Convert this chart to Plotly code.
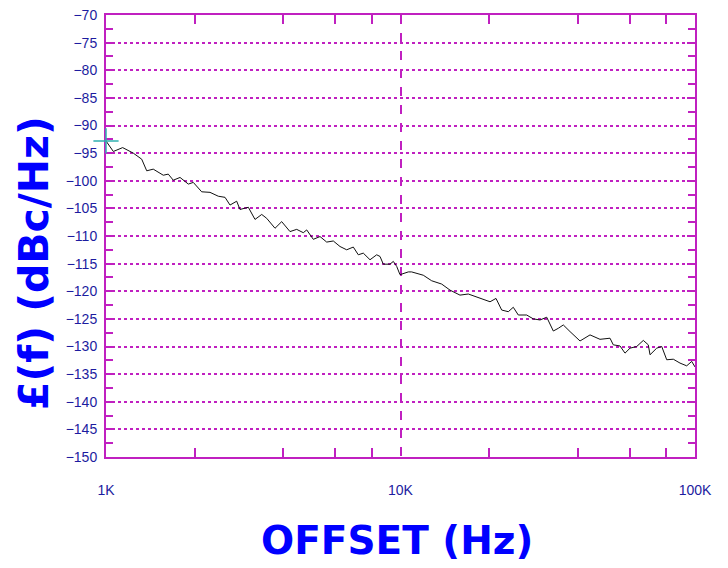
import plotly.graph_objects as go

# Offset frequency (Hz) and phase noise (dBc/Hz)
freq_hz = [1000, 1059, 1139, 1238, 1322, 1375, 1447, 1565, 1627, 1692, 1784, 1903, 1979,
           2113, 2255, 2406, 2536, 2637, 2778, 2851, 3043, 3206, 3379, 3513, 3749, 3950,
           4215, 4442, 4677, 4803, 5057, 5330, 5616, 5913, 6231, 6566, 6914, 7190, 7477,
           7878, 8302, 8519, 8742, 9211, 9454, 9707, 9960, 10630, 10910, 11950, 12760,
           13800, 14730, 15920, 16990, 18380, 20140, 21100, 22060, 23230, 24150, 25120,
           26820, 28240, 29770, 31370, 33030, 34350, 35710, 37640, 40700, 44010, 47580,
           51450, 52790, 55630, 57850, 60160, 63390, 66760, 69410, 70350, 74130, 77090,
           80170, 84410, 88940, 93720, 97460, 100000]
noise_dbc = [-92.8, -94.7, -94.0, -95.0, -96.1, -98.2, -97.9, -99.0, -98.8, -99.9, -99.4,
             -100.6, -100.3, -102.0, -102.1, -102.8, -103.0, -104.4, -103.7, -105.2, -104.8,
             -107.0, -106.1, -106.8, -108.6, -107.4, -109.2, -108.8, -109.4, -108.9, -110.6,
             -110.1, -111.1, -110.9, -111.9, -112.5, -112.0, -113.4, -113.1, -114.3, -113.4,
             -113.7, -115.1, -115.1, -114.6, -115.5, -117.0, -116.5, -116.5, -117.1, -118.1,
             -118.7, -119.8, -120.7, -120.5, -121.2, -121.9, -121.3, -123.4, -123.7, -122.9,
             -124.3, -124.3, -125.0, -125.2, -124.7, -127.2, -126.7, -126.1, -127.3, -129.0,
             -127.9, -128.7, -128.5, -129.7, -129.9, -131.2, -130.3, -130.0, -128.9, -129.7,
             -131.5, -130.3, -130.0, -132.4, -132.3, -133.0, -133.5, -132.7, -133.7]

marker_freq = [1000]
marker_dbc = [-92.8]

x_tick_vals = [1000, 10000, 100000]
x_tick_text = ["1K", "10K", "100K"]
x_minor_vals = [2000, 4000, 6000, 8000, 20000, 40000, 60000, 80000]
y_tick_vals = list(range(-150, -69, 5))
y_tick_text = [str(v).replace("-", "\u2212") for v in y_tick_vals]

MAG = "#C020C0"
LABEL = "#1C1CA0"
TITLE = "#0000FF"
CYAN = "#30B0B0"

fig = go.Figure()
fig.add_trace(go.Scatter(x=freq_hz, y=noise_dbc, mode="lines",
                         line=dict(color="#111111", width=1.0), hoverinfo="skip"))
fig.add_trace(go.Scatter(x=marker_freq, y=marker_dbc, mode="markers", cliponaxis=False,
                         marker=dict(symbol="cross-thin", size=18, color=CYAN,
                                     line=dict(color=CYAN, width=1.5))))

tick_font = dict(family="Liberation Sans", size=14, color=LABEL)

fig.update_layout(
    width=720, height=556,
    margin=dict(l=98, r=33, t=7, b=107),
    paper_bgcolor="white", plot_bgcolor="white",
    showlegend=False, hovermode=False,
    xaxis=dict(type="log", range=[2.99999, 5], tickvals=x_tick_vals, ticktext=x_tick_text,
               automargin=False, layer="below traces",
               showgrid=True, gridcolor=MAG, griddash="dash", gridwidth=1.5,
               showline=True, linecolor=MAG, linewidth=2, mirror="ticks",
               ticks="", zeroline=False, tickfont=tick_font,
               ticklabelstandoff=19, ticklabeloverflow="allow",
               minor=dict(tickvals=x_minor_vals, ticks="inside", ticklen=9,
                          tickcolor=MAG, tickwidth=1.5, showgrid=False)),
    yaxis=dict(range=[-150, -70], tickvals=y_tick_vals, ticktext=y_tick_text,
               automargin=False, layer="below traces",
               showgrid=True, gridcolor=MAG, griddash="dot", gridwidth=1.5,
               showline=True, linecolor=MAG, linewidth=2, mirror="ticks",
               ticks="inside", ticklen=8, tickcolor=MAG, tickwidth=2, zeroline=False,
               tickfont=tick_font, ticklabelstandoff=4, ticklabeloverflow="allow",
               minor=dict(dtick=2.5, ticks="inside", ticklen=7, tickcolor=MAG,
                          tickwidth=2, showgrid=False)),
    annotations=[
        dict(text="<b>OFFSET (Hz)</b>", xref="paper", yref="paper", x=0.494, y=0,
             yanchor="middle", yshift=-83, showarrow=False,
             font=dict(family="DejaVu Sans", size=39, color=TITLE)),
        dict(text="<b>£(f) (dBc/Hz)</b>", xref="paper", yref="paper", x=0, y=0.439,
             xanchor="center", yanchor="middle", xshift=-72, textangle=-90,
             showarrow=False,
             font=dict(family="DejaVu Sans", size=41, color=TITLE)),
    ],
)

fig.write_html("out.html")
